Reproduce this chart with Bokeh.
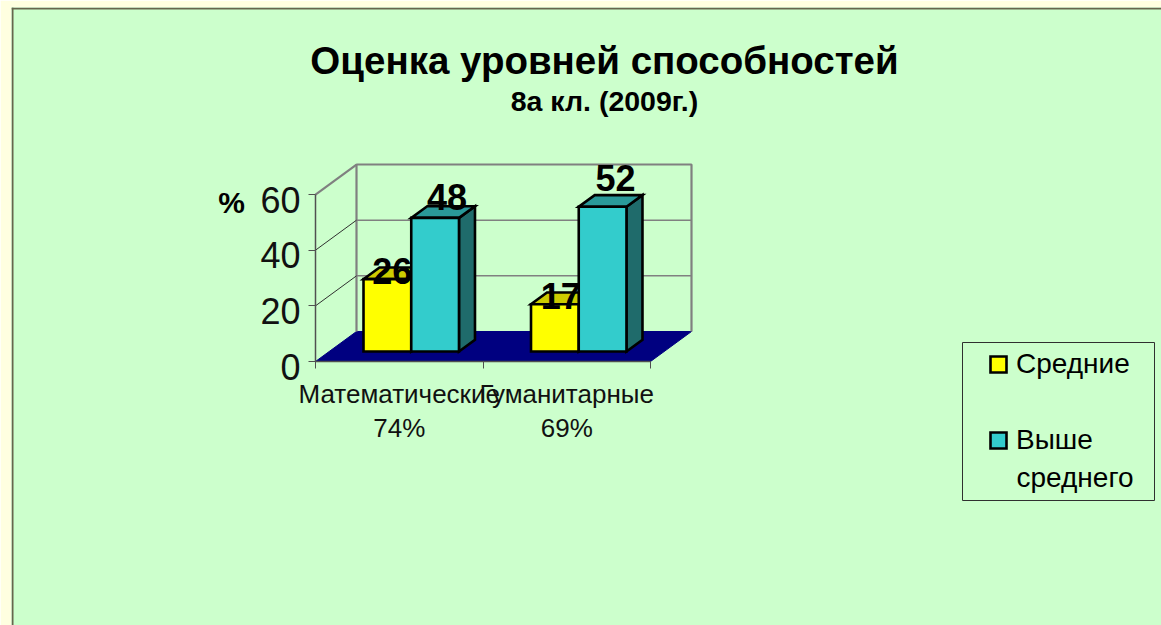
from bokeh.plotting import figure
from bokeh.models import FixedTicker, Legend, LegendItem, LinearAxis, Range1d, Span
from bokeh.core.properties import value
from bokeh.embed import file_html
from bokeh.resources import INLINE

# ---- data ----
categories = ["Математические\n74%", "Гуманитарные\n69%"]
series_names = ["Средние", "Выше среднего"]
medium = [26, 17]
above_medium = [48, 52]
y_ticks = [0, 20, 40, 60]
title_text = "Оценка уровней способностей"
subtitle_text = "8а кл. (2009г.)"

# ---- geometry of the oblique 3D projection (page pixels) ----
PX_X0, PX_CAT = 315.0, 167.5      # x of category origin, pixels per category
PX_Y0, PX_UNIT = 361.0, 2.783     # y of value 0, pixels per value unit
DEPTH_X, DEPTH_Y = 41 / PX_CAT, 30 / PX_UNIT
Y_MAX = 60

def dx(px):
    return (px - PX_X0) / PX_CAT

def dy(py):
    return (PX_Y0 - py) / PX_UNIT

def proj(x, v, d):
    return x + d * DEPTH_X, v + d * DEPTH_Y

def path(points):
    pts = [proj(*q) for q in points]
    return [a for a, _ in pts], [b for _, b in pts]

GREEN, CREAM = "#CCFFCC", "#FFFFE0"
GRAY = "#808080"
FONT = value("Liberation Sans")

p = figure(width=1161, height=625, output_backend="svg", toolbar_location=None,
           x_axis_location=None, y_axis_location=None,
           min_border=0, min_border_left=11, min_border_top=7,
           x_range=Range1d(dx(11), dx(1161)), y_range=Range1d(dy(625), dy(7)))
p.extra_y_ranges = {"labels": Range1d(dy(625) + 5 / PX_UNIT, dy(7) + 5 / PX_UNIT)}
p.background_fill_color = GREEN
p.border_fill_color = CREAM
p.outline_line_color = None
p.grid.visible = False

# chart border
p.add_layout(Span(location=dx(12), dimension="height", line_color="#66664D", line_width=2))
p.add_layout(Span(location=dy(8), dimension="width", line_color="#66664D", line_width=2))

# floor
n = len(categories)
fx, fy = path([(0, 0, 0), (n, 0, 0), (n, 0, 1), (0, 0, 1)])
p.patch(fx, fy, fill_color="#000080", line_color="#000080", line_width=1)

# back wall + gridlines
bx, by = path([(0, 0, 1), (0, Y_MAX, 1), (n, Y_MAX, 1), (n, 0, 1)])
p.line(bx, by, line_color=GRAY, line_width=2.2)
for t in y_ticks[1:-1]:
    gx, gy = path([(0, t, 1), (n, t, 1)])
    p.line(gx, gy, line_color=GRAY, line_width=1.5)
    sx_, sy_ = path([(0, t, 0), (0, t, 1)])
    p.line(sx_, sy_, line_color="#303030", line_width=1)
sx_, sy_ = path([(0, Y_MAX, 0), (0, Y_MAX, 1)])
p.line(sx_, sy_, line_color=GRAY, line_width=2.2)

# bars
BAR_W, BAR_START = 0.285, 0.205
D0, D1 = 1 / 3, 1 / 3 + 16 / 41
styles = [("#FFFF00", "#CCCC00", "#999900"), ("#33CCCC", "#2A9999", "#1F6B6B")]
front_renderers = []
for s, vals in enumerate([medium, above_medium]):
    front_col, top_col, side_col = styles[s]
    for i, v in enumerate(vals):
        x0 = i + BAR_START + s * BAR_W
        x1 = x0 + BAR_W
        kw = dict(line_color="black", line_width=2.6, line_join="miter")
        a, b = path([(x1, 0, D0), (x1, 0, D1), (x1, v, D1), (x1, v, D0)])
        p.patch(a, b, fill_color=side_col, **kw)
        a, b = path([(x0, v, D0), (x1, v, D0), (x1, v, D1), (x0, v, D1)])
        p.patch(a, b, fill_color=top_col, **kw)
        a, b = path([(x0, 0, D0), (x1, 0, D0), (x1, v, D0), (x0, v, D0)])
        r = p.patch(a, b, fill_color=front_col, **kw)
        if i == 0:
            front_renderers.append(r)

# data labels (anchored on each bar's top, nudged like the original)
nudge = {(0, 0): (5, -8), (0, 1): (6, -8), (1, 0): (12, -21), (1, 1): (13, -29)}
for s, vals in enumerate([medium, above_medium]):
    for i, v in enumerate(vals):
        cx = i + BAR_START + (s + 0.5) * BAR_W
        lx, ly = proj(cx, v, D0)
        ox, oy = nudge[(s, i)]
        p.text([lx], [ly], text=[str(v)], x_offset=ox, y_offset=oy, text_font=FONT,
               text_font_style="bold", text_font_size="36px", text_color="black",
               text_align="center", text_baseline="middle")

# axes
ya = LinearAxis(fixed_location=0, ticker=FixedTicker(ticks=y_ticks),
                major_label_overrides={t: "" for t in y_ticks})
ya.bounds = (0, Y_MAX)
ya.axis_line_color = "#505050"
ya.axis_line_width = 1.5
ya.major_tick_line_color = "#505050"
ya.major_tick_out = 7
ya.major_tick_in = 0
ya.minor_tick_line_color = None
p.add_layout(ya, "left")

yl = LinearAxis(fixed_location=0, y_range_name="labels", ticker=FixedTicker(ticks=y_ticks))
yl.axis_line_color = None
yl.major_tick_line_color = None
yl.minor_tick_line_color = None
yl.major_label_standoff = 9
yl.major_label_text_font = "Liberation Sans"
yl.major_label_text_font_size = "36px"
yl.major_label_text_color = "#111111"
p.add_layout(yl, "left")

xa = LinearAxis(fixed_location=0, ticker=FixedTicker(ticks=list(range(n + 1))),
                major_label_overrides={i: "" for i in range(n + 1)})
xa.bounds = (0, n)
xa.axis_line_color = "#505050"
xa.axis_line_width = 1.5
xa.major_tick_line_color = "#505050"
xa.major_tick_out = 7
xa.major_tick_in = 0
xa.minor_tick_line_color = None
p.add_layout(xa, "below")

xl = LinearAxis(fixed_location=0, ticker=FixedTicker(ticks=[i + 0.5 for i in range(n)]),
                major_label_overrides={i + 0.5: c for i, c in enumerate(categories)})
xl.axis_line_color = None
xl.major_tick_line_color = None
xl.minor_tick_line_color = None
xl.major_label_standoff = 11
xl.major_label_text_font = "Liberation Sans"
xl.major_label_text_font_size = "26px"
xl.major_label_text_color = "#111111"
xl.major_label_text_line_height = 1.14
p.add_layout(xl, "below")

# texts
def txt(x, y, s, size, style="bold", align="center"):
    p.text([dx(x)], [dy(y)], text=[s], text_font=FONT, text_font_style=style,
           text_font_size=size, text_color="black", text_align=align, text_baseline="middle")

txt(604, 60, title_text, "38.5px")
txt(604, 100, subtitle_text, "28.5px")
txt(231, 202, "%", "30px")

# legend: frame + entries, the long name wraps on a second line as in the original
p.quad(left=[dx(962)], right=[dx(1154)], top=[dy(342)], bottom=[dy(500)],
       fill_color=None, line_color="#303030", line_width=1)
first, second = series_names[1].split(" ")
legend = Legend(items=[LegendItem(label=series_names[0], renderers=[front_renderers[0]]),
                       LegendItem(label=first, renderers=[front_renderers[1]])],
                location=(977, 169), orientation="vertical",
                background_fill_alpha=0, border_line_color=None,
                label_text_font="Liberation Sans", label_text_font_size="28px",
                label_text_color="black", label_standoff=8,
                glyph_width=20, glyph_height=20, spacing=44,
                padding=4, margin=0)
p.add_layout(legend, "center")
txt(1016, 477, second, "28px", style="normal", align="left")

open("out.html", "w").write(file_html(p, INLINE))
